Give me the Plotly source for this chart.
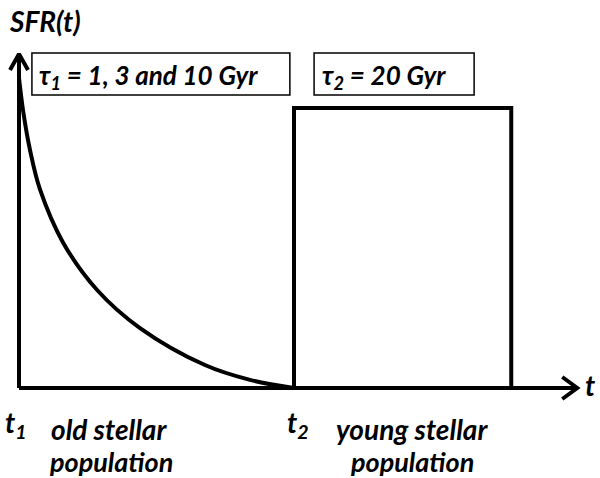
import plotly.graph_objects as go

# --- data (schematic units: t1 = 0, t2 = 10; SFR of young burst = 10) ---
curve_t = [0.0, 0.145, 0.4, 0.76, 1.6, 2.84, 4.4, 6.76, 8.4, 10.0]
curve_sfr = [11.07, 9.93, 8.5, 7.1, 5.2, 3.5, 2.14, 0.82, 0.29, 0.0]

burst_t = [10.0, 10.0, 17.9, 17.9]
burst_sfr = [0.0, 10.0, 10.0, 0.0]

t_axis_end = 20.3
sfr_axis_end = 11.93

box1_x = [0.47, 9.85]
box2_x = [10.73, 16.55]
box_y = [10.46, 11.96]

# --- geometry helpers (pixel -> data) ---
PX_X = 27.5   # pixels per t unit
PX_Y = 28.0   # pixels per sfr unit
X_RANGE = [-19 / PX_X, (600 - 19) / PX_X]
Y_RANGE = [(388 - 478) / PX_Y, 388 / PX_Y]

FONT = dict(family="Lato, 'Open Sans', sans-serif", color="black", weight=700, style="italic")
LW = 4

fig = go.Figure()

# axes with arrow heads
fig.add_trace(go.Scatter(x=[0, 0], y=[0, sfr_axis_end], mode="lines",
                         line=dict(color="black", width=LW), hoverinfo="skip"))
fig.add_trace(go.Scatter(x=[0, t_axis_end], y=[0, 0], mode="lines",
                         line=dict(color="black", width=LW), hoverinfo="skip"))
hx, hy = 9 / PX_X, 16 / PX_Y
fig.add_trace(go.Scatter(x=[-hx, 0, hx], y=[sfr_axis_end - hy, sfr_axis_end, sfr_axis_end - hy],
                         mode="lines", line=dict(color="black", width=LW), hoverinfo="skip"))
vx, vy = 15 / PX_X, 11 / PX_Y
fig.add_trace(go.Scatter(x=[t_axis_end - vx, t_axis_end, t_axis_end - vx], y=[vy, 0, -vy],
                         mode="lines", line=dict(color="black", width=LW), hoverinfo="skip"))

# old population: exponential decline
fig.add_trace(go.Scatter(x=curve_t, y=curve_sfr, mode="lines", line_shape="spline",
                         line=dict(color="black", width=LW), hoverinfo="skip"))
# young population: constant burst
fig.add_trace(go.Scatter(x=burst_t, y=burst_sfr, mode="lines",
                         line=dict(color="black", width=LW), hoverinfo="skip"))

# label boxes
for bx in (box1_x, box2_x):
    fig.add_shape(type="rect", x0=bx[0], x1=bx[1], y0=box_y[0], y1=box_y[1],
                  line=dict(color="black", width=1.5), fillcolor="white")

def ann(text, x, y, size, xanchor="center"):
    fig.add_annotation(text=text, x=x, y=y, xref="x", yref="y", showarrow=False,
                       xanchor=xanchor, yanchor="middle", font=dict(FONT, size=size))

ann("SFR(t)", -0.42, 13.1, 28, "left")
ann("τ<sub>1</sub> = 1, 3 and 10 Gyr", 0.66, 11.14, 26, "left")
ann("τ<sub>2</sub> = 20 Gyr", 10.95, 11.14, 26, "left")
ann("t", 20.76, 0.1, 28, "center")
ann("t<sub>1</sub>", -0.6, -1.29, 28, "left")
ann("t<sub>2</sub>", 9.66, -1.29, 28, "left")
ann("old stellar", 3.27, -1.45, 28)
ann("population", 3.33, -2.62, 27)
ann("young stellar", 14.3, -1.45, 28)
ann("population", 14.3, -2.62, 27)

fig.update_layout(
    width=600, height=478,
    margin=dict(l=0, r=0, t=0, b=0),
    paper_bgcolor="white", plot_bgcolor="white",
    showlegend=False,
    xaxis=dict(range=X_RANGE, visible=False, fixedrange=True),
    yaxis=dict(range=Y_RANGE, visible=False, fixedrange=True),
)

fig.write_html("out.html", config={"displayModeBar": False},
               post_script="document.body.style.margin='0px';document.body.style.overflow='hidden';")
